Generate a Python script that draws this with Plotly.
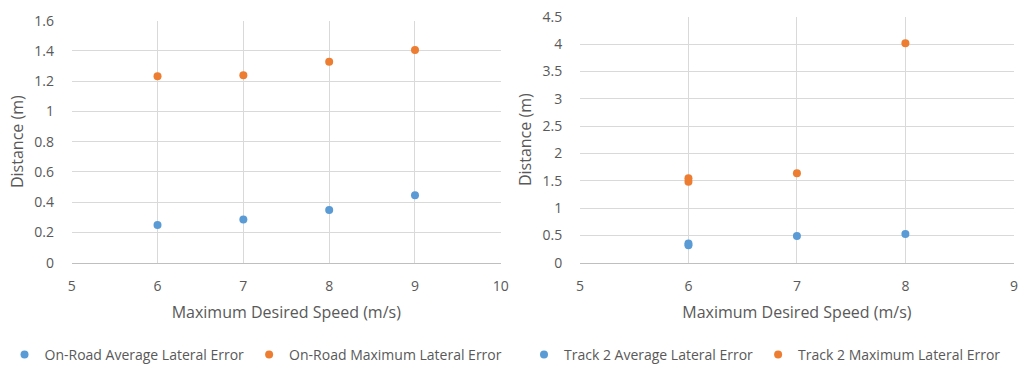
import plotly.graph_objects as go

speed_left = [6, 7, 8, 9]
onroad_avg = [0.25, 0.285, 0.348, 0.446]
onroad_max = [1.232, 1.239, 1.329, 1.406]

speed_right = [6, 6, 7, 8]
track2_avg = [0.32, 0.35, 0.49, 0.525]
track2_max = [1.48, 1.544, 1.635, 4.013]

BLUE = "#5B9BD5"
ORANGE = "#ED7D31"
GRID = "#D9D9D9"
TXT = "#595959"
FONT = "Open Sans"

fig = go.Figure()
fig.add_trace(go.Scatter(x=speed_left, y=onroad_avg, mode="markers", name="On-Road Average Lateral Error",
                         marker=dict(color=BLUE, size=8), xaxis="x", yaxis="y", legend="legend"))
fig.add_trace(go.Scatter(x=speed_left, y=onroad_max, mode="markers", name="On-Road Maximum Lateral Error",
                         marker=dict(color=ORANGE, size=8), xaxis="x", yaxis="y", legend="legend"))
fig.add_trace(go.Scatter(x=speed_right, y=track2_avg, mode="markers", name="Track 2 Average Lateral Error",
                         marker=dict(color=BLUE, size=8), xaxis="x2", yaxis="y2", legend="legend2"))
fig.add_trace(go.Scatter(x=speed_right, y=track2_max, mode="markers", name="Track 2 Maximum Lateral Error",
                         marker=dict(color=ORANGE, size=8), xaxis="x2", yaxis="y2", legend="legend2"))

tickfont = dict(family=FONT, size=14, color=TXT)
titlefont = dict(family=FONT, size=16, color=TXT)

def xax(domain, anchor, rng):
    return dict(domain=domain, anchor=anchor, range=rng, dtick=1, showgrid=True, gridcolor=GRID,
                zeroline=False, showline=True, linecolor="#BFBFBF", linewidth=1, automargin=False,
                tickfont=tickfont, ticks="outside", ticklen=11, tickcolor="rgba(0,0,0,0)",
                title=dict(text="Maximum Desired Speed (m/s)", font=titlefont, standoff=12), fixedrange=True)

def yax(domain, anchor, rng, dtick):
    return dict(domain=domain, anchor=anchor, range=rng, dtick=dtick, showgrid=True, gridcolor=GRID,
                zeroline=False, showline=False, automargin=False, tickfont=tickfont, ticks="outside", ticklen=14,
                tickcolor="rgba(0,0,0,0)",
                title=dict(text="Distance (m)", font=titlefont, standoff=6), fixedrange=True)

fig.update_layout(
    width=1020, height=367,
    margin=dict(l=0, r=0, t=0, b=0, autoexpand=False),
    paper_bgcolor="white", plot_bgcolor="white",
    font=dict(family=FONT, color=TXT),
    xaxis=xax([0.0703, 0.491], "y", [5, 10]),
    yaxis=yax([0.2842, 0.9436], "x", [0, 1.6], 0.2),
    xaxis2=xax([0.5686, 0.994], "y2", [5, 9]),
    yaxis2=yax([0.2842, 0.9545], "x2", [0, 4.5], 0.5),
    legend=dict(orientation="h", x=0.251, xanchor="center", y=0.033, yanchor="middle",
                font=dict(family=FONT, size=14, color=TXT), itemwidth=30, bgcolor="rgba(0,0,0,0)"),
    legend2=dict(orientation="h", x=0.750, xanchor="center", y=0.033, yanchor="middle",
                 font=dict(family=FONT, size=14, color=TXT), itemwidth=30, bgcolor="rgba(0,0,0,0)"),
    showlegend=True,
)

fig.write_html("out.html")
